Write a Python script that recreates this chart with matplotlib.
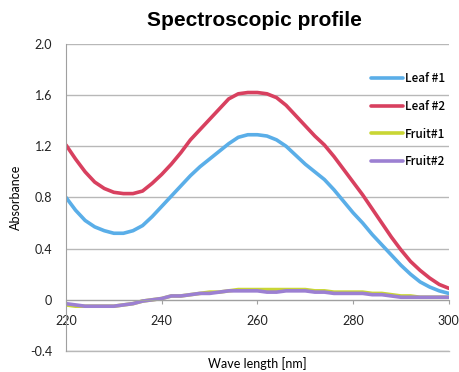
import matplotlib
matplotlib.use("Agg")
import matplotlib.pyplot as plt
import numpy as np

wave = np.arange(220, 301, 2)

leaf1 = [0.80, 0.70, 0.62, 0.57, 0.54, 0.52, 0.52, 0.54, 0.58, 0.65,
         0.73, 0.81, 0.89, 0.97, 1.04, 1.10, 1.16, 1.22, 1.27, 1.29,
         1.29, 1.28, 1.25, 1.20, 1.13, 1.06, 1.00, 0.94, 0.86, 0.77,
         0.68, 0.60, 0.51, 0.43, 0.35, 0.27, 0.20, 0.14, 0.10, 0.07, 0.05]
leaf2 = [1.21, 1.10, 1.00, 0.92, 0.87, 0.84, 0.83, 0.83, 0.85, 0.91,
         0.98, 1.06, 1.15, 1.25, 1.33, 1.41, 1.49, 1.57, 1.61, 1.62,
         1.62, 1.61, 1.58, 1.52, 1.44, 1.36, 1.28, 1.21, 1.12, 1.02,
         0.92, 0.82, 0.71, 0.60, 0.49, 0.39, 0.30, 0.23, 0.17, 0.12, 0.09]
fruit1 = [-0.04, -0.05, -0.05, -0.05, -0.05, -0.05, -0.04, -0.03, -0.01, 0.00,
          0.01, 0.03, 0.03, 0.04, 0.05, 0.06, 0.06, 0.07, 0.08, 0.08,
          0.08, 0.08, 0.08, 0.08, 0.08, 0.08, 0.07, 0.07, 0.06, 0.06,
          0.06, 0.06, 0.05, 0.05, 0.04, 0.03, 0.03, 0.02, 0.02, 0.02, 0.02]
fruit2 = [-0.03, -0.04, -0.05, -0.05, -0.05, -0.05, -0.04, -0.03, -0.01, 0.00,
          0.01, 0.03, 0.03, 0.04, 0.05, 0.05, 0.06, 0.07, 0.07, 0.07,
          0.07, 0.06, 0.06, 0.07, 0.07, 0.07, 0.06, 0.06, 0.05, 0.05,
          0.05, 0.05, 0.04, 0.04, 0.03, 0.02, 0.02, 0.02, 0.02, 0.02, 0.02]

labels = ["Leaf #1", "Leaf #2", "Fruit#1", "Fruit#2"]
colors = ["#5aaee8", "#d8405f", "#c9d634", "#9c80d2"]

fig = plt.figure(figsize=(4.59, 3.72), dpi=100)
ax = fig.add_axes([0.1438, 0.0565, 0.834, 0.8255])

for y, lab, c in zip([leaf1, leaf2, fruit1, fruit2], labels, colors):
    ax.plot(wave, y, color=c, lw=2.6, label=lab, solid_capstyle="round")

ax.set_xlim(220, 300)
ax.set_ylim(-0.4, 2.0)
ax.set_yticks([-0.4, 0, 0.4, 0.8, 1.2, 1.6, 2.0])
ax.set_yticklabels(["-0.4", "0", "0.4", "0.8", "1.2", "1.6", "2.0"])
ax.set_xticks([220, 240, 260, 280, 300])
ax.grid(axis="y", color="#b8b8b8", lw=1.0)
ax.axhline(-0.4, color="#b8b8b8", lw=1.0, clip_on=False, zorder=0.5)
ax.set_axisbelow(True)

for s in ["top", "right"]:
    ax.spines[s].set_visible(False)
ax.spines["left"].set_color("#a0a0a0")
ax.spines["bottom"].set_position(("data", 0))
ax.spines["bottom"].set_color("#a0a0a0")
ax.tick_params(axis="y", length=0, pad=10, labelsize=9, labelcolor="#222222")
ax.tick_params(axis="x", length=3, direction="out", color="#a0a0a0",
               labelsize=9, labelcolor="#222222", pad=8)
for t in ax.get_xticklabels() + ax.get_yticklabels():
    t.set_family("Lato")

ax.set_ylabel("Absorbance", fontsize=9, family="Lato", labelpad=6)
fig.text(0.56, 0.022, "Wave length [nm]", ha="center", va="center",
         fontsize=9, family="Lato")
fig.text(0.555, 0.945, "Spectroscopic profile", ha="center", va="center",
         fontsize=15, fontweight="bold", family="Liberation Sans")

leg = ax.legend(loc="upper left", bbox_to_anchor=(0.785, 0.835),
                bbox_transform=fig.transFigure, frameon=False,
                handlelength=2.7, handletextpad=0.15, labelspacing=1.25,
                prop={"family": "Noto Sans CJK JP", "size": 8.5,
                      "weight": "medium"})

fig.savefig("out.png", dpi=100)
